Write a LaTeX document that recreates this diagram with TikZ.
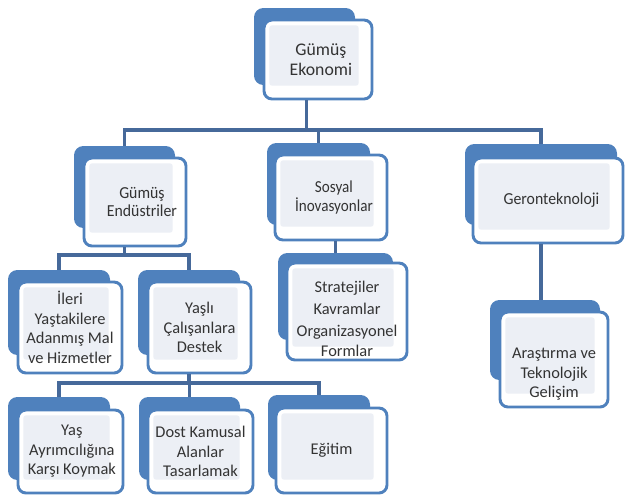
\documentclass[tikz,border=0pt]{standalone}
\usepackage{fontspec}
\setmainfont{Carlito}
\newfontfamily\narrowA[FakeStretch=0.94]{Carlito}
\newfontfamily\narrowB[FakeStretch=0.9]{Carlito}
\usetikzlibrary{fit}
\definecolor{boxblue}{HTML}{4F81BD}
\definecolor{linecol}{HTML}{46699A}
\definecolor{innerfill}{HTML}{ECEFF5}
\definecolor{txtcol}{HTML}{333333}
\tikzset{
  backbox/.style={fill=boxblue, draw=none, rounded corners=7pt, inner sep=0pt},
  frontbox/.style={fill=white, draw=boxblue, line width=2.2pt, rounded corners=6pt, inner sep=0pt,
    path picture={\fill[innerfill, rounded corners=2pt]
      ([xshift=4pt,yshift=-4pt]path picture bounding box.north west) rectangle
      ([xshift=-10pt,yshift=10pt]path picture bounding box.south east);}},
  txt/.style={align=center, text=txtcol, inner sep=0pt, font=\fontsize{12.3}{14.6}\selectfont},
  conn/.style={draw=linecol, line width=2.3pt}
}
\begin{document}
\begin{tikzpicture}[x=0.75pt, y=-0.75pt]
\useasboundingbox (0,0) rectangle (625,497);
% top
\node[backbox, fit={(254,8) (355,85)}] (bTop) {};
\node[frontbox, fit={(264,20) (372,99)}] (fTop) {};
\node[txt, font=\fontsize{13.3}{15}\selectfont] (tTop) at ([xshift=2.2pt]fTop.center) {Gümüş\\Ekonomi};
% level 1
\node[backbox, fit={(74,146) (175,228)}] (bEnd) {};
\node[frontbox, fit={(84,158) (186,246)}] (fEnd) {};
\node[txt, font=\narrowA\fontsize{12.6}{13.8}\selectfont] (tEnd) at ([xshift=5.2pt]fEnd.center) {Gümüş\\Endüstriler};
\node[backbox, fit={(267,143) (370,225)}] (bSos) {};
\node[frontbox, fit={(275,155) (387,240)}] (fSos) {};
\node[txt, font=\narrowB\fontsize{12.6}{14.4}\selectfont] (tSos) at ([xshift=2.2pt]fSos.center) {Sosyal\\İnovasyonlar};
\node[backbox, fit={(465,144) (617,225)}] (bGer) {};
\node[frontbox, fit={(473,158) (623,243)}] (fGer) {};
\node[txt, font=\narrowA\fontsize{12.6}{14}\selectfont] (tGer) at ([xshift=2.6pt]fGer.center) {Geronteknoloji};
% level 2
\node[backbox, fit={(8,270) (110,355)}] (bIle) {};
\node[frontbox, fit={(18,282) (122,373)}] (fIle) {};
\node[txt] (tIle) at (fIle.center) {İleri\\Yaştakilere\\Adanmış Mal\\ve Hizmetler};
\node[backbox, fit={(138,270) (240,355)}] (bYas) {};
\node[frontbox, fit={(148,282) (251,373)}] (fYas) {};
\node[txt] (tYas) at (fYas.center) {Yaşlı\\Çalışanlara\\Destek};
\node[backbox, fit={(278,253) (393,340)}] (bStr) {};
\node[frontbox, fit={(287,263) (407,360)}] (fStr) {};
\node[txt] (tStr) at ([yshift=-5.5pt]fStr.center) {Stratejiler\\[2pt]Kavramlar\\[2pt]Organizasyonel\\Formlar};
\node[backbox, fit={(490,300) (600,380)}] (bAra) {};
\node[frontbox, fit={(500,312) (608,407)}] (fAra) {};
\node[txt] (tAra) at ([yshift=-11pt]fAra.center) {Araştırma ve\\Teknolojik\\Gelişim};
% level 3
\node[backbox, fit={(8,397) (110,480)}] (bAyr) {};
\node[frontbox, fit={(18,410) (123,493)}] (fAyr) {};
\node[txt] (tAyr) at ([xshift=1pt]fAyr.center) {Yaş\\Ayrımcılığına\\Karşı Koymak};
\node[backbox, fit={(139,397) (240,480)}] (bDos) {};
\node[frontbox, fit={(148,410) (253,493)}] (fDos) {};
\node[txt] (tDos) at (fDos.center) {Dost Kamusal\\Alanlar\\Tasarlamak};
\node[backbox, fit={(268,395) (370,480)}] (bEgi) {};
\node[frontbox, fit={(276,408) (387,493)}] (fEgi) {};
\node[txt] (tEgi) at (fEgi.center) {Eğitim};
% connectors
\coordinate (h1) at (0,130);
\coordinate (h2) at (0,255);
\coordinate (h3) at (0,383);
\draw[conn] ([xshift=1.5pt]bTop.center |- fTop.south) -- ([xshift=1.5pt]bTop.center |- h1);
\draw[conn] (bEnd.north) -- (bEnd.north |- h1) -- (bGer.north |- h1) -- (bGer.north);
\draw[conn] (bSos.north) -- (bSos.north |- h1);
\draw[conn] (bEnd.center |- fEnd.south) -- (bEnd.center |- h2);
\draw[conn] (bIle.north) -- (bIle.north |- h2) -- (bYas.north |- h2) -- (bYas.north);
\draw[conn] (bStr.north) -- (bStr.north |- fSos.south);
\draw[conn] (bGer.center |- fGer.south) -- (bGer.center |- bAra.north);
\draw[conn] (bYas.center |- fYas.south) -- (bYas.center |- h3);
\draw[conn] (bAyr.north) -- (bAyr.north |- h3) -- (bEgi.north |- h3) -- (bEgi.north);
\draw[conn] (bDos.north) -- (bDos.north |- h3);
\end{tikzpicture}
\end{document}
